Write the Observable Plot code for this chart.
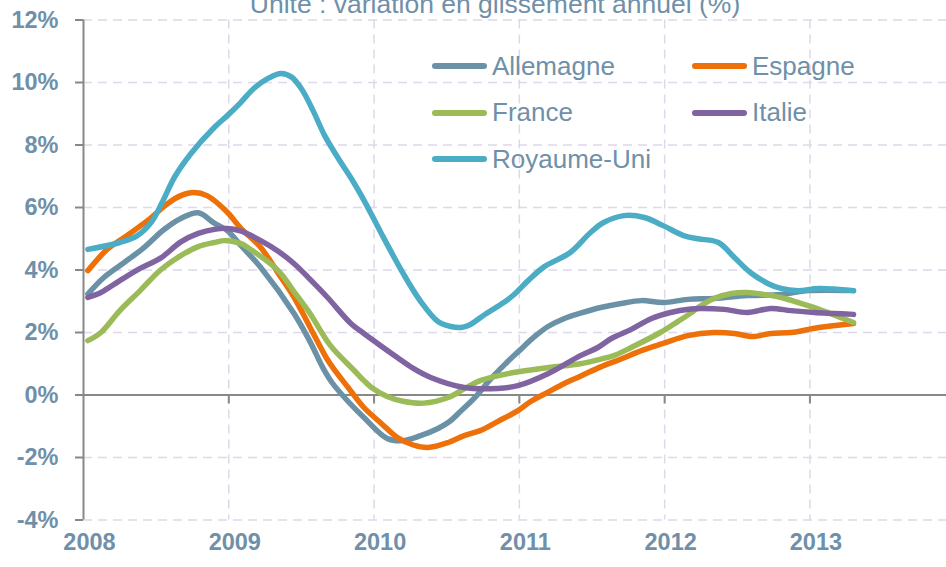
<!DOCTYPE html>
<html><head><meta charset="utf-8">
<script src="https://cdn.jsdelivr.net/npm/d3@7"></script>
<script src="https://cdn.jsdelivr.net/npm/@observablehq/plot@0.6"></script>
<style>
html,body{margin:0;padding:0;background:#fff;}
#wrap{position:relative;width:946px;height:567px;overflow:hidden;font-family:"Liberation Sans",Arial,sans-serif;}
#legend{position:absolute;left:432px;top:43px;display:grid;grid-template-columns:260px 260px;}
.item{display:flex;align-items:center;height:46.5px;font-size:26px;color:#6f90a8;white-space:nowrap;}
.sw{width:55px;height:6px;border-radius:3px;margin-right:5px;flex:none;}
</style></head><body><div id="wrap"><div id="legend"></div></div>
<script>
const title = "Unité : variation en glissement annuel (%)";
const years = [2008, 2009, 2010, 2011, 2012, 2013];
const yTicks = [-4, -2, 0, 2, 4, 6, 8, 10, 12];
const series = ["Allemagne", "Espagne", "France", "Italie", "Royaume-Uni"];
const colors = ["#6b91a6", "#ee7008", "#9bbb59", "#8064a2", "#4bacc6"];

const allemagne = [[2008.03,3.23],[2008.14,3.76],[2008.28,4.24],[2008.41,4.69],[2008.55,5.28],[2008.67,5.65],[2008.79,5.83],[2008.90,5.5],[2008.99,5.26],[2009.08,4.8],[2009.22,4.08],[2009.45,2.6],[2009.56,1.7],[2009.65,0.85],[2009.71,0.4],[2009.82,-0.2],[2009.93,-0.72],[2010.09,-1.39],[2010.20,-1.46],[2010.32,-1.3],[2010.44,-1.07],[2010.52,-0.85],[2010.60,-0.5],[2010.70,-0.05],[2010.80,0.5],[2010.90,0.98],[2011.00,1.42],[2011.10,1.85],[2011.20,2.2],[2011.31,2.45],[2011.42,2.62],[2011.56,2.8],[2011.70,2.93],[2011.84,3.02],[2011.99,2.96],[2012.16,3.06],[2012.34,3.09],[2012.57,3.18],[2012.80,3.22],[2012.99,3.34],[2013.30,3.34]];
const espagne = [[2008.03,3.98],[2008.17,4.69],[2008.28,5.04],[2008.44,5.58],[2008.58,6.13],[2008.67,6.38],[2008.76,6.48],[2008.85,6.38],[2008.99,5.85],[2009.08,5.35],[2009.22,4.72],[2009.34,3.9],[2009.45,3.12],[2009.56,2.16],[2009.67,1.2],[2009.72,0.85],[2009.82,0.25],[2009.93,-0.4],[2010.05,-0.91],[2010.16,-1.36],[2010.27,-1.6],[2010.37,-1.68],[2010.51,-1.52],[2010.62,-1.3],[2010.73,-1.14],[2010.85,-0.85],[2010.99,-0.5],[2011.08,-0.2],[2011.20,0.1],[2011.31,0.37],[2011.42,0.6],[2011.56,0.9],[2011.70,1.15],[2011.84,1.42],[2011.99,1.65],[2012.16,1.9],[2012.34,2.0],[2012.48,1.97],[2012.61,1.87],[2012.73,1.97],[2012.87,2.0],[2013.06,2.16],[2013.30,2.29]];
const france = [[2008.03,1.74],[2008.12,2.0],[2008.25,2.7],[2008.39,3.34],[2008.53,4.0],[2008.67,4.46],[2008.79,4.75],[2008.90,4.88],[2008.97,4.94],[2009.08,4.85],[2009.13,4.72],[2009.34,3.98],[2009.45,3.3],[2009.56,2.6],[2009.70,1.58],[2009.86,0.8],[2009.93,0.46],[2009.98,0.25],[2010.09,-0.05],[2010.20,-0.2],[2010.34,-0.26],[2010.51,-0.08],[2010.62,0.2],[2010.73,0.46],[2010.96,0.72],[2011.20,0.88],[2011.42,1.0],[2011.56,1.15],[2011.65,1.26],[2011.77,1.52],[2011.97,2.0],[2012.09,2.35],[2012.18,2.62],[2012.23,2.8],[2012.34,3.09],[2012.46,3.25],[2012.57,3.28],[2012.68,3.22],[2012.80,3.12],[2012.92,2.96],[2013.03,2.8],[2013.14,2.61],[2013.30,2.32]];
const italie = [[2008.03,3.12],[2008.12,3.28],[2008.25,3.66],[2008.39,4.05],[2008.53,4.38],[2008.67,4.9],[2008.79,5.17],[2008.90,5.3],[2008.99,5.33],[2009.08,5.25],[2009.22,4.94],[2009.34,4.6],[2009.45,4.2],[2009.56,3.7],[2009.68,3.12],[2009.84,2.29],[2009.93,1.97],[2010.16,1.2],[2010.27,0.85],[2010.39,0.56],[2010.62,0.24],[2010.85,0.21],[2010.99,0.3],[2011.20,0.69],[2011.42,1.26],[2011.54,1.52],[2011.63,1.8],[2011.77,2.1],[2011.91,2.45],[2012.04,2.64],[2012.18,2.75],[2012.25,2.77],[2012.41,2.74],[2012.57,2.64],[2012.73,2.77],[2012.87,2.7],[2013.03,2.64],[2013.17,2.61],[2013.30,2.58]];
const royaumeUni = [[2008.03,4.66],[2008.25,4.88],[2008.37,5.1],[2008.47,5.55],[2008.54,6.15],[2008.63,7.0],[2008.74,7.73],[2008.90,8.56],[2008.99,8.94],[2009.08,9.35],[2009.17,9.8],[2009.27,10.13],[2009.36,10.29],[2009.43,10.18],[2009.50,9.8],[2009.58,9.1],[2009.66,8.3],[2009.75,7.6],[2009.86,6.8],[2009.94,6.15],[2010.05,5.17],[2010.20,3.89],[2010.32,3.0],[2010.44,2.35],[2010.52,2.2],[2010.60,2.16],[2010.66,2.25],[2010.77,2.6],[2010.89,2.95],[2010.96,3.2],[2011.06,3.66],[2011.17,4.1],[2011.35,4.56],[2011.49,5.2],[2011.58,5.52],[2011.72,5.74],[2011.86,5.68],[2011.99,5.42],[2012.13,5.1],[2012.23,5.0],[2012.37,4.88],[2012.48,4.4],[2012.59,3.92],[2012.71,3.57],[2012.80,3.41],[2012.92,3.34],[2013.06,3.41],[2013.30,3.34]];

const table = [allemagne, espagne, france, italie, royaumeUni]
  .flatMap((arr, i) => arr.map(([t, v]) => ({serie: series[i], t, v})));

const textColor = "#6f90a8";
const gridColor = "#ddd8ea";
const axisColor = "#888888";

const chart = Plot.plot({
  width: 946, height: 567,
  marginLeft: 83, marginRight: 0, marginTop: 19.5, marginBottom: 47.5,
  x: {domain: [2008, 2013.94], axis: null},
  y: {domain: [-4, 12], axis: null},
  color: {domain: series, range: colors},
  style: {fontFamily: '"Liberation Sans", Arial, sans-serif', background: "white"},
  marks: [
    Plot.ruleY(yTicks.filter(d => d !== 0), {stroke: gridColor, strokeWidth: 1.5, strokeDasharray: "9,6"}),
    Plot.ruleX(years.filter(d => d !== 2008), {stroke: gridColor, strokeWidth: 1.5, strokeDasharray: "9,6"}),
    Plot.ruleY([0], {stroke: axisColor, strokeWidth: 2}),
    Plot.ruleX(years.filter(d => d !== 2008), {y1: 0, y2: 0, insetBottom: -9, stroke: axisColor, strokeWidth: 2}),
    Plot.ruleX([2008], {stroke: axisColor, strokeWidth: 2}),
    Plot.axisY({ticks: yTicks, tickSize: 8, stroke: axisColor, strokeWidth: 2, fill: "none", label: null}),
    Plot.text(yTicks, {y: d => d, frameAnchor: "left", dx: -25, textAnchor: "end", text: d => `${d}%`, fontSize: 23.5, fontWeight: "bold", fill: textColor}),
    Plot.text(years, {x: d => d, frameAnchor: "bottom", dy: 30, dx: 6, text: d => String(d), fontSize: 23.5, fontWeight: "bold", fill: textColor}),
    Plot.line(table, {x: "t", y: "v", z: "serie", stroke: "serie", strokeWidth: 5.5, curve: "catmull-rom", strokeLinecap: "round", strokeLinejoin: "round"}),
    Plot.text([title], {frameAnchor: "top", dx: -20, dy: -26, fontSize: 26.5, fill: textColor})
  ]
});
const wrap = document.getElementById("wrap");
wrap.insertBefore(chart, wrap.firstChild);

const legend = document.getElementById("legend");
series.forEach((s, i) => {
  const it = document.createElement("div");
  it.className = "item";
  const sw = document.createElement("span");
  sw.className = "sw";
  sw.style.background = colors[i];
  const lb = document.createElement("span");
  lb.textContent = s;
  it.appendChild(sw); it.appendChild(lb);
  legend.appendChild(it);
});
</script></body></html>
